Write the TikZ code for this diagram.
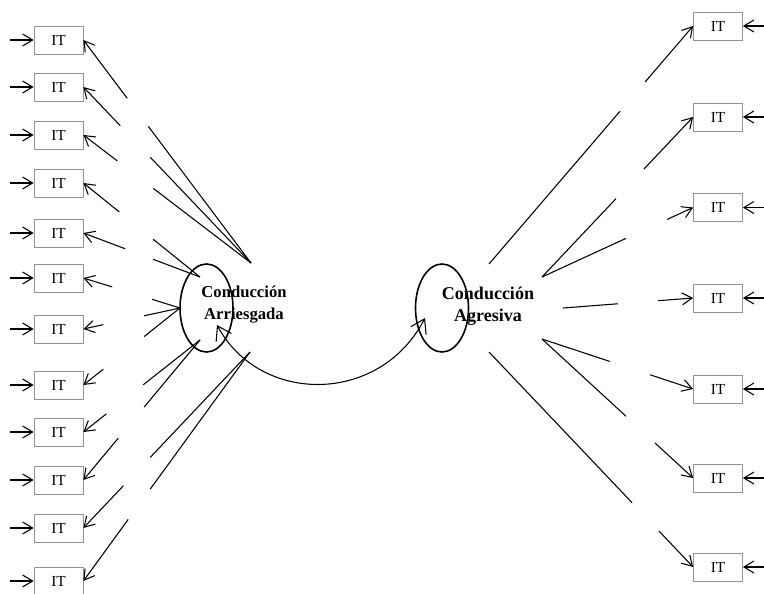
\documentclass[tikz,border=0pt]{standalone}
\usepackage{fontspec}
\setmainfont{Liberation Serif}
\usetikzlibrary{arrows.meta,calc,shapes.geometric}

\begin{document}
\begin{tikzpicture}[x=0.75pt,y=-0.75pt]
        \tikzstyle{itbox}=[draw=gray!85, line width=0.6pt, minimum width=36.75pt, minimum height=21pt, inner sep=0pt, font=\fontsize{11.5}{12}\selectfont]
        \tikzstyle{factor}=[draw, ellipse, line width=1.2pt, minimum width=39.75pt, minimum height=66pt, inner sep=0pt]
        \tikzstyle{factorlbl}=[align=center, inner sep=0pt, font=\bfseries\fontsize{12.5}{16.5}\selectfont]
        \tikzstyle{link}=[line width=0.8pt]
        \tikzstyle{flecha}=[link, -{Straight Barb[length=7.5pt,width=9pt]}]
        \tikzstyle{doble}=[link, {Straight Barb[length=10pt,width=13pt]}-{Straight Barb[length=10pt,width=13pt]}]
        \useasboundingbox (0,0) rectangle (764,593);

        \node[factor] (riesgo) at (206.5,308) {};
        \node[factor] (agresiva) at (442,308) {};
        \node[factorlbl] (lblriesgo) at (244,305) {Conducción\\Arriesgada};
        \node[factorlbl, font=\bfseries\fontsize{13.5}{16.5}\selectfont] (lblagresiva) at (488,306) {Conducción\\Agresiva};

        \foreach \n/\y in {1/40, 2/87, 3/135, 4/183, 5/233, 6/278, 7/329, 8/385, 9/432, 10/480, 11/528, 12/581} {
            \node[itbox] (ia\n) at (58.5,\y) {IT};
            \coordinate (ea\n) at (10,\y);
            \draw[flecha] (ea\n) -- (ia\n);
        }
        \foreach \n/\y in {1/26, 2/117, 3/207.5, 4/298, 5/389, 6/478, 7/567} {
            \node[itbox] (ib\n) at (718,\y) {IT};
            \coordinate (eb\n) at (770,\y);
            \draw[flecha] (eb\n) -- (ib\n);
        }

        \coordinate (ha1) at (251,263);
        \coordinate (ha2) at (200,277);
        \coordinate (ha3) at (180,308);
        \coordinate (ha4) at (200,340);
        \coordinate (ha5) at (250,352);
        \coordinate (hb1) at (489,264);
        \coordinate (hb2) at (542,277);
        \coordinate (hb3) at (563,308);
        \coordinate (hb4) at (542,339);
        \coordinate (hb5) at (489,352);

        \foreach \n/\h/\p/\q in {1/ha1/0.262/0.387, 2/ha1/0.220/0.399, 3/ha1/0.202/0.417, 4/ha2/0.308/0.598, 5/ha2/0.359/0.598, 6/ha3/0.299/0.711, 7/ha3/0.206/0.629, 8/ha3/0.206/0.629, 9/ha4/0.197/0.513, 10/ha4/0.299/0.521, 11/ha5/0.240/0.401, 12/ha5/0.269/0.401} {
            \draw[flecha] ($(ia\n.east)!\p!(\h)$) -- (ia\n.east);
            \draw[link] ($(ia\n.east)!\q!(\h)$) -- (\h);
        }
        \foreach \n/\h/\p/\q in {1/hb1/0.235/0.358, 2/hb2/0.325/0.510, 3/hb2/0.172/0.444, 4/hb3/0.269/0.577, 5/hb4/0.285/0.550, 6/hb4/0.252/0.444, 7/hb5/0.167/0.299} {
            \draw[flecha] ($(ib\n.west)!\p!(\h)$) -- (ib\n.west);
            \draw[link] ($(ib\n.west)!\q!(\h)$) -- (\h);
        }

        \coordinate (ra) at (217,325);
        \coordinate (ag) at (425,318);
        \draw[doble] (ra) .. controls (260,405) and (380,405) .. (ag);
\end{tikzpicture}
\end{document}
